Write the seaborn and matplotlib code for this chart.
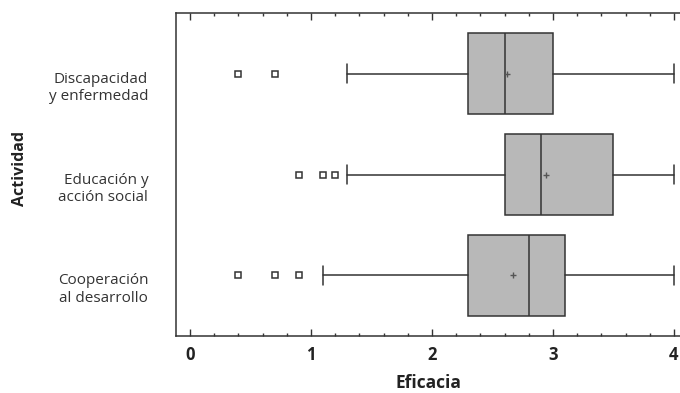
import matplotlib
matplotlib.use("Agg")
import matplotlib.pyplot as plt
import matplotlib.transforms as mtransforms
from matplotlib.ticker import MultipleLocator
import seaborn as sns

categories = ["Discapacidad\ny enfermedad", "Educación y\nacción social", "Cooperación\nal desarrollo"]
whislo = [1.3, 1.3, 1.1]
q1 = [2.3, 2.6, 2.3]
med = [2.6, 2.9, 2.8]
q3 = [3.0, 3.5, 3.1]
whishi = [4.0, 4.0, 4.0]
means = [2.62, 2.94, 2.67]
fliers = [[0.4, 0.7], [0.9, 1.1, 1.2], [0.4, 0.7, 0.9]]

sns.set_theme(style="ticks")
plt.rcParams['font.family'] = ['Open Sans', 'DejaVu Sans']

line_col = "#333333"
stats = [
    dict(label=c, whislo=lo, q1=a, med=m, q3=b, whishi=hi, mean=mu, fliers=f)
    for c, lo, a, m, b, hi, mu, f in zip(categories, whislo, q1, med, q3, whishi, means, fliers)
]

fig = plt.figure(figsize=(6.8, 3.93), dpi=100)
ax = fig.add_axes([176 / 680, 1 - 336 / 393, 1 - 176 / 680, 323 / 393])

ax.bxp(stats, positions=[0, 1, 2], orientation='horizontal', widths=0.81,
       capwidths=0.19, showmeans=True, patch_artist=True,
       boxprops=dict(facecolor="#b8b8b8", edgecolor=line_col, linewidth=1.1),
       medianprops=dict(color=line_col, linewidth=1.1),
       whiskerprops=dict(color=line_col, linewidth=1.1),
       capprops=dict(color=line_col, linewidth=1.1),
       flierprops=dict(marker='s', markersize=4.5, markerfacecolor='white',
                       markeredgecolor=line_col, markeredgewidth=1.1),
       meanprops=dict(marker='+', markersize=5, markeredgecolor="#555555",
                      markeredgewidth=1.0))

ax.set_xlim(-0.115, 4.05)
ax.set_ylim(2.6, -0.6)
ax.xaxis.set_major_locator(MultipleLocator(1))
ax.xaxis.set_minor_locator(MultipleLocator(0.2))
ax.tick_params(axis='x', which='both', direction='in', top=True, bottom=True,
               color=line_col, width=1.0)
ax.tick_params(axis='x', which='major', length=5, pad=7, labelsize=12, labelcolor="#222222")
ax.tick_params(axis='x', which='minor', length=2.2)
for lab in ax.get_xticklabels():
    lab.set_fontweight('bold')

ax.set_yticks([0, 1, 2])
ax.set_yticklabels(categories, fontsize=11, color="#333333", ha='right', multialignment='right')
ax.tick_params(axis='y', length=0, pad=20)
offset = mtransforms.ScaledTranslation(0, -11 / 100, fig.dpi_scale_trans)
for lab in ax.get_yticklabels():
    lab.set_transform(lab.get_transform() + offset)

for side in ['left', 'top', 'bottom']:
    ax.spines[side].set_color(line_col)
    ax.spines[side].set_linewidth(1.1)
ax.spines['right'].set_visible(False)

ax.set_xlabel("Eficacia", fontsize=12.5, fontweight='bold', color="#222222")
ax.xaxis.label.set_va('center')
ax.xaxis.set_label_coords(0.5, -47 / 323)
ax.set_ylabel("Actividad", fontsize=11.5, fontweight='bold', color="#222222")
ax.yaxis.label.set_va('center')
ax.yaxis.set_label_coords((20 - 176) / 504, 0.52)

fig.savefig("out.png", dpi=100)
